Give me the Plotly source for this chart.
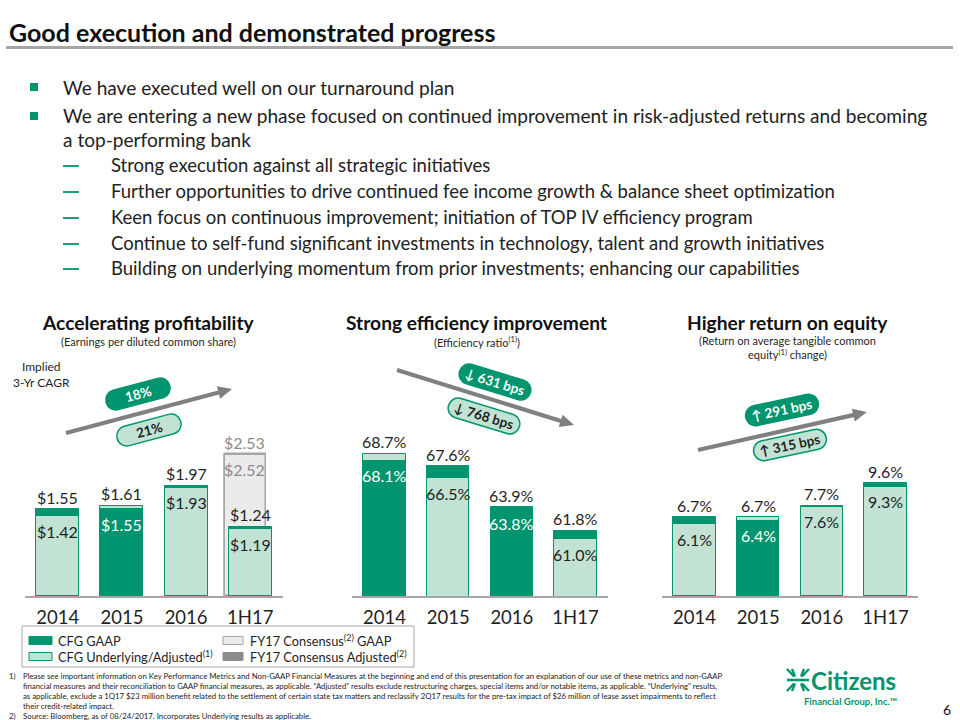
import math
import plotly.graph_objects as go

# ---------------- data ----------------
categories = ["2014", "2015", "2016", "1H17"]
eps_gaap = [1.55, 1.55, 1.97, 1.24]
eps_adjusted = [1.42, 1.61, 1.93, 1.19]
consensus_category = ["1H17"]
consensus_gaap = [2.52]
consensus_adjusted = [2.53]
eff_gaap = [68.1, 67.6, 63.8, 61.8]
eff_adjusted = [68.7, 66.5, 63.9, 61.0]
rote_gaap = [6.7, 6.4, 7.7, 9.6]
rote_adjusted = [6.1, 6.7, 7.6, 9.3]
eps_change = ["18%", "21%"]
eff_change = ["\u2193 631 bps", "\u2193 768 bps"]
rote_change = ["\u2191 291 bps", "\u2191 315 bps"]

DARK = "#00956e"
LIGHT = "#c2e2d3"
GRAY_L = "#ebebeb"
GRAY_D = "#8c8c8c"
GRAY_LINE = "#a6a6a6"
TXT = "#1f1f1f"
FONT = "Lato"

W, H = 960, 720
def X(px): return px / W
def Y(py): return 1 - py / H

fig = go.Figure()
annotations = []
shapes = []
VAL_SIZE = 16

# ---------------- bar charts ----------------
def add_chart(idx, gaap, adj, fmt, yrange, dom):
    xa = "x" if idx == 1 else f"x{idx}"
    ya = "y" if idx == 1 else f"y{idx}"
    back = [max(g, a) for g, a in zip(gaap, adj)]
    back_c = [DARK if g >= a else LIGHT for g, a in zip(gaap, adj)]
    front = [min(g, a) for g, a in zip(gaap, adj)]
    front_c = [DARK if g < a else LIGHT for g, a in zip(gaap, adj)]
    for vals, cols in ((back, back_c), (front, front_c)):
        fig.add_trace(go.Bar(x=categories, y=vals, width=0.67, xaxis=xa, yaxis=ya,
                             marker=dict(color=cols, line=dict(color=DARK, width=1)),
                             showlegend=False, hoverinfo="skip"))
    for i, (b, f, fc) in enumerate(zip(back, front, front_c)):
        annotations.append(dict(x=i, y=b, xref=xa, yref=ya, text=fmt(b), showarrow=False,
                                yshift=12, yanchor="middle",
                                font=dict(family=FONT, size=VAL_SIZE, color=TXT)))
        annotations.append(dict(x=i, y=f, xref=xa, yref=ya, text=fmt(f), showarrow=False,
                                yshift=-15, yanchor="middle",
                                font=dict(family=FONT, size=VAL_SIZE,
                                          color="white" if fc == DARK else TXT)))
    axis_key = "xaxis" if idx == 1 else f"xaxis{idx}"
    yaxis_key = "yaxis" if idx == 1 else f"yaxis{idx}"
    fig.update_layout(**{
        axis_key: dict(domain=[X(dom[0]), X(dom[1])], type="category",
                       categoryorder="array", categoryarray=categories,
                       range=[-0.51, 3.51], showline=True, linecolor=GRAY_LINE, linewidth=1.5,
                       showgrid=False, zeroline=False, ticks="", anchor=ya,
                       tickfont=dict(family=FONT, size=18.5, color=TXT), ticklabelstandoff=4),
        yaxis_key: dict(domain=[Y(596), Y(440)], range=yrange, visible=False,
                        showgrid=False, zeroline=False, anchor=xa),
    })

# consensus bars first (behind)
c_back = [max(g, a) for g, a in zip(consensus_gaap, consensus_adjusted)]
c_back_c = [GRAY_L if g >= a else GRAY_D for g, a in zip(consensus_gaap, consensus_adjusted)]
c_front = [min(g, a) for g, a in zip(consensus_gaap, consensus_adjusted)]
c_front_c = [GRAY_L if g < a else GRAY_D for g, a in zip(consensus_gaap, consensus_adjusted)]
for vals, cols in ((c_back, c_back_c), (c_front, c_front_c)):
    fig.add_trace(go.Bar(x=consensus_category, y=vals, width=0.64, offset=-0.40,
                         xaxis="x", yaxis="y",
                         marker=dict(color=cols, line=dict(color=GRAY_LINE, width=1.5)),
                         showlegend=False, hoverinfo="skip"))
for c, b, f in zip(consensus_category, c_back, c_front):
    ci = categories.index(c)
    annotations.append(dict(x=ci, y=b, xref="x", yref="y", text=f"${b:.2f}", showarrow=False,
                            yshift=12, xshift=-6, yanchor="middle",
                            font=dict(family=FONT, size=VAL_SIZE, color="#8c8c8c")))
    annotations.append(dict(x=ci, y=f, xref="x", yref="y", text=f"${f:.2f}", showarrow=False,
                            yshift=-15, xshift=-6, yanchor="middle",
                            font=dict(family=FONT, size=VAL_SIZE, color="#8c8c8c")))

add_chart(1, eps_gaap, eps_adjusted, lambda v: f"${v:.2f}", [0, 156 / 56], (25, 283))
add_chart(2, eff_gaap, eff_adjusted, lambda v: f"{v:.1f}%", [55.9, 55.9 + 156 / 11.1], (352, 608))
add_chart(3, rote_gaap, rote_adjusted, lambda v: f"{v:.1f}%", [0, 156 / 11.75], (662, 918))

fig.update_layout(barmode="overlay", bargap=0)

# ---------------- helpers ----------------
def text(px, py, s, size, color=TXT, anchor="left", bold=False, vanchor="middle", family=FONT, align="left"):
    if bold:
        s = f"<b>{s}</b>"
    annotations.append(dict(x=X(px), y=Y(py), xref="paper", yref="paper", text=s,
                            showarrow=False, xanchor=anchor, yanchor=vanchor, align=align,
                            borderpad=0,
                            font=dict(family=family, size=size, color=color)))

def pt(x, y):
    return f"{X(x):.5f},{Y(y):.5f}"

def pill(cx, cy, L, Hh, ang, fill, line, label, tcolor):
    r = Hh / 2.0
    a = L / 2.0 - r
    k = 0.5523 * r
    th = math.radians(ang)
    cs, sn = math.cos(th), math.sin(th)
    def p(u, v):
        return pt(cx + u * cs - v * sn, cy + u * sn + v * cs)
    path = (f"M {p(-a,-r)} L {p(a,-r)} C {p(a+k,-r)} {p(a+r,-k)} {p(a+r,0)} "
            f"C {p(a+r,k)} {p(a+k,r)} {p(a,r)} L {p(-a,r)} "
            f"C {p(-a-k,r)} {p(-a-r,k)} {p(-a-r,0)} C {p(-a-r,-k)} {p(-a-k,-r)} {p(-a,-r)} Z")
    shapes.append(dict(type="path", path=path, xref="paper", yref="paper",
                       fillcolor=fill, line=dict(color=line, width=1.5), layer="above"))
    annotations.append(dict(x=X(cx), y=Y(cy), xref="paper", yref="paper", text=f"<b>{label}</b>",
                            showarrow=False, textangle=ang, xanchor="center", yanchor="middle",
                            font=dict(family=FONT, size=13.5, color=tcolor)))

def seg(x0, y0, x1, y1, color, width):
    shapes.append(dict(type="line", xref="paper", yref="paper", x0=X(x0), y0=Y(y0),
                       x1=X(x1), y1=Y(y1), line=dict(color=color, width=width)))

def arrow(hx, hy, tx, ty, color="#808080"):
    dx, dy = hx - tx, hy - ty
    n = math.hypot(dx, dy)
    ux, uy = dx / n, dy / n
    nx, ny = -uy, ux
    bx, by = hx - 14 * ux, hy - 14 * uy
    seg(tx, ty, bx + 2 * ux, by + 2 * uy, color, 4.2)
    path = f"M {pt(hx, hy)} L {pt(bx + 6.5 * nx, by + 6.5 * ny)} L {pt(bx - 6.5 * nx, by - 6.5 * ny)} Z"
    shapes.append(dict(type="path", path=path, xref="paper", yref="paper",
                       fillcolor=color, line=dict(color=color, width=0)))

# ---------------- header ----------------
text(8, 32, "Good execution and demonstrated progress", 25, color="#111111", bold=True)
seg(6, 47.5, 953, 47.5, GRAY_LINE, 3)

bullets = [
    (87, "We have executed well on our turnaround plan"),
    (116, "We are entering a new phase focused on continued improvement in risk-adjusted returns and becoming"),
    (140, "a top-performing bank"),
]
for i, (py, s) in enumerate(bullets):
    if i < 2:
        shapes.append(dict(type="rect", xref="paper", yref="paper", x0=X(30), x1=X(38),
                           y0=Y(py + 4), y1=Y(py - 4), fillcolor=DARK, line=dict(width=0)))
    text(62, py, s, 19.1, color="#222222")

subs = [
    (165, "Strong execution against all strategic initiatives"),
    (191, "Further opportunities to drive continued fee income growth &amp; balance sheet optimization"),
    (217, "Keen focus on continuous improvement; initiation of TOP IV efficiency program"),
    (243, "Continue to self-fund significant investments in technology, talent and growth initiatives"),
    (268, "Building on underlying momentum from prior investments; enhancing our capabilities"),
]
for py, s in subs:
    seg(63, py + 1, 79, py + 1, DARK, 1.8)
    text(110, py, s, 18.5, color="#222222")

# ---------------- chart titles ----------------
text(148, 322, "Accelerating profitability", 19.2, anchor="center", bold=True, color="#111111")
text(148, 341, "(Earnings per diluted common share)", 11, anchor="center")
text(477, 322, "Strong efficiency improvement", 19.2, anchor="center", bold=True, color="#111111")
text(477, 341, "(Efficiency ratio<sup>(1)</sup>)", 11, anchor="center")
text(787, 322, "Higher return on equity", 19.2, anchor="center", bold=True, color="#111111")
text(787, 347.5, "(Return on average tangible common<br>equity<sup>(1)</sup> change)", 11, anchor="center", align="center")
text(41, 374, "Implied<br>3-Yr CAGR", 12, anchor="center", align="center")

# ---------------- arrows & pills ----------------
arrow(232, 389, 66, 433)
pill(138, 394, 66, 20, -15, DARK, DARK, eps_change[0], "white")
pill(149, 430, 66, 20, -15, LIGHT, DARK, eps_change[1], TXT)

arrow(574, 425, 397, 370)
pill(495, 382, 74, 20, 17, DARK, DARK, eff_change[0], "white")
pill(484, 416, 74, 20, 17, LIGHT, DARK, eff_change[1], TXT)

arrow(867, 412, 698, 450)
pill(782, 410, 74, 20, -12, DARK, DARK, rote_change[0], "white")
pill(790, 445, 74, 20, -12, LIGHT, DARK, rote_change[1], TXT)

# ---------------- legend ----------------
shapes.append(dict(type="rect", xref="paper", yref="paper", x0=X(22), x1=X(414), y0=Y(667), y1=Y(626),
                   line=dict(color=GRAY_LINE, width=1), fillcolor="rgba(0,0,0,0)"))
legend_items = [
    (29, 52, 640.5, DARK, DARK, 57, "CFG GAAP"),
    (29, 52, 656.5, LIGHT, DARK, 57, "CFG Underlying/Adjusted<sup>(1)</sup>"),
    (223, 243, 640.5, GRAY_L, GRAY_LINE, 249, "FY17 Consensus<sup>(2)</sup> GAAP"),
    (223, 243, 656.5, GRAY_D, GRAY_D, 249, "FY17 Consensus Adjusted<sup>(2)</sup>"),
]
for x0, x1, cy, fc, lc, tx, s in legend_items:
    shapes.append(dict(type="rect", xref="paper", yref="paper", x0=X(x0), x1=X(x1),
                       y0=Y(cy + 4), y1=Y(cy - 4), fillcolor=fc, line=dict(color=lc, width=1)))
    text(tx, cy, s, 12.8)

# ---------------- footnotes ----------------
foot1 = [
    "Please see important information on Key Performance Metrics and Non-GAAP Financial Measures at the beginning and end of this presentation for an explanation of our use of these metrics and non-GAAP",
    "financial measures and their reconciliation to GAAP financial measures, as applicable. \u201cAdjusted\u201d results exclude restructuring charges, special items and/or notable items, as applicable. \u201cUnderlying\u201d results,",
    "as applicable, exclude a 1Q17 $23 million benefit related to the settlement of certain state tax matters and reclassify 2Q17 results for the pre-tax impact of $26 million of lease asset impairments to reflect",
    "their credit-related impact.",
]
foot2 = "Source: Bloomberg, as of 08/24/2017. Incorporates Underlying results as applicable."
text(8, 669.5, "1)", 7.8, color="#222222", vanchor="top")
text(22, 669.5, "<br>".join(foot1), 7.8, color="#222222", vanchor="top")
text(8, 710, "2)", 7.8, color="#222222", vanchor="top")
text(22, 710, foot2, 7.8, color="#222222", vanchor="top")

# ---------------- logo ----------------
lx, ly = 798, 680
seg(787, ly, 809, ly, DARK, 2.6)
for sx in (-1, 1):
    for sy in (-1, 1):
        for d in (0, 5):
            seg(lx + sx * (11 - d), ly + sy * 11, lx + sx * (4 - d * 0.2), ly + sy * 3.5, DARK, 2.4)
text(810, 680, "Citizens", 24, color=DARK, bold=True)
text(898, 701, "Financial Group, Inc.\u2122", 9.5, color=DARK, bold=True, anchor="right")
text(947, 709, "6", 14, color="#111111", anchor="center")

fig.update_layout(width=W, height=H, margin=dict(l=0, r=0, t=0, b=0),
                  paper_bgcolor="white", plot_bgcolor="rgba(0,0,0,0)",
                  showlegend=False, annotations=annotations, shapes=shapes)
fig.write_html("out.html")
